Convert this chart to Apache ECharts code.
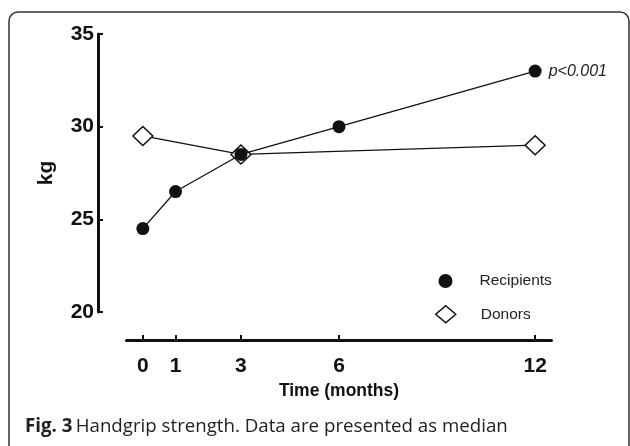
<!DOCTYPE html>
<html>
<head>
<meta charset="utf-8">
<script src="https://cdn.jsdelivr.net/npm/echarts@6/dist/echarts.min.js"></script>
<style>
html,body{margin:0;padding:0;background:#fff;}
#c{width:630px;height:446px;}
</style>
</head>
<body>
<div id="c"></div>
<script>
var months = [0, 1, 3, 6, 12];
var recipients = [24.5, 26.5, 28.5, 30, 33];
var donorMonths = [0, 3, 12];
var donors = [29.5, 28.5, 29];
var yTicks = [20, 25, 30, 35];
var xTicks = [0, 1, 3, 6, 12];
var pLabel = 'p<0.001';
var caption = 'Handgrip strength. Data are presented as median';

var FONT = 'Liberation Sans, Arial, sans-serif';
var recData = months.map(function (m, i) {
  var d = { value: [m, recipients[i]] };
  if (i === months.length - 1) {
    d.label = { show: true, position: 'right', distance: 7, formatter: pLabel,
      fontStyle: 'italic', fontSize: 16, color: '#222', fontFamily: FONT };
  }
  return d;
});
var donData = donorMonths.map(function (m, i) { return [m, donors[i]]; });

var chart = echarts.init(document.getElementById('c'));
chart.setOption({
  animation: false,
  backgroundColor: '#fff',
  grid: { left: 126.5, right: 78.5, top: 34, bottom: 134 },
  xAxis: {
    type: 'value', min: -0.5, max: 12.5,
    offset: 28,
    splitLine: { show: false },
    axisLine: { onZero: false, lineStyle: { color: '#111', width: 3 } },
    axisTick: { inside: true, length: 5, customValues: xTicks, lineStyle: { color: '#111', width: 2 } },
    axisLabel: { customValues: xTicks, margin: 16, fontSize: 21, fontWeight: 'bold', color: '#111', fontFamily: FONT },
    name: 'Time (months)', nameLocation: 'middle', nameGap: 40,
    nameTextStyle: { fontSize: 17.5, fontWeight: 'bold', color: '#111', fontFamily: FONT }
  },
  yAxis: {
    type: 'value', min: 20, max: 35, interval: 5,
    offset: 28.5,
    splitLine: { show: false },
    axisLine: { onZero: false, lineStyle: { color: '#111', width: 3 } },
    axisTick: { inside: true, length: 5, lineStyle: { color: '#111', width: 2 } },
    axisLabel: { margin: 4, fontSize: 21, fontWeight: 'bold', color: '#111', fontFamily: FONT },
    name: 'kg', nameLocation: 'middle', nameGap: 41,
    nameTextStyle: { fontSize: 21, fontWeight: 'bold', color: '#111', fontFamily: FONT }
  },
  legend: [
    {
      orient: 'vertical', left: 433.5, top: 268, padding: 5,
      itemWidth: 14, itemHeight: 14,
      textStyle: { fontSize: 15.5, color: '#222', fontFamily: FONT, padding: [0, 0, 0, 22] },
      data: [ { name: 'Recipients', icon: 'circle', itemStyle: { color: '#111', borderWidth: 0 } } ]
    },
    {
      orient: 'vertical', left: 430, top: 300, padding: 5,
      itemWidth: 20, itemHeight: 17,
      textStyle: { fontSize: 15.5, color: '#222', fontFamily: FONT, padding: [0, 0, 0, 20] },
      data: [ { name: 'Donors', icon: 'diamond', itemStyle: { color: '#fff', borderColor: '#111', borderWidth: 1.5 } } ]
    }
  ],
  series: [
    {
      name: 'Donors', type: 'line', data: donData,
      symbol: 'diamond', symbolSize: [20, 19],
      lineStyle: { color: '#111', width: 1.3 },
      itemStyle: { color: '#fff', borderColor: '#111', borderWidth: 1.5 },
      z: 2
    },
    {
      name: 'Recipients', type: 'line', data: recData,
      symbol: 'circle', symbolSize: 13,
      lineStyle: { color: '#111', width: 1.3 },
      itemStyle: { color: '#111', borderWidth: 0 },
      z: 3
    }
  ],
  graphic: [
    { type: 'rect', shape: { x: 9, y: 12, width: 620, height: 460, r: 9 },
      style: { fill: 'none', stroke: '#333', lineWidth: 1.5 }, silent: true },
    { type: 'text', left: 25, top: 417,
      style: { rich: { b: { fontWeight: 'bold', fontSize: 18.7, fontFamily: 'Open Sans, Noto Sans, sans-serif', fill: '#222' },
                       n: { fontSize: 18.7, fontFamily: 'Open Sans, Noto Sans, sans-serif', fill: '#222' } },
               text: '{b|Fig. 3} {n|' + caption + '}' } }
  ]
});
</script>
</body>
</html>
